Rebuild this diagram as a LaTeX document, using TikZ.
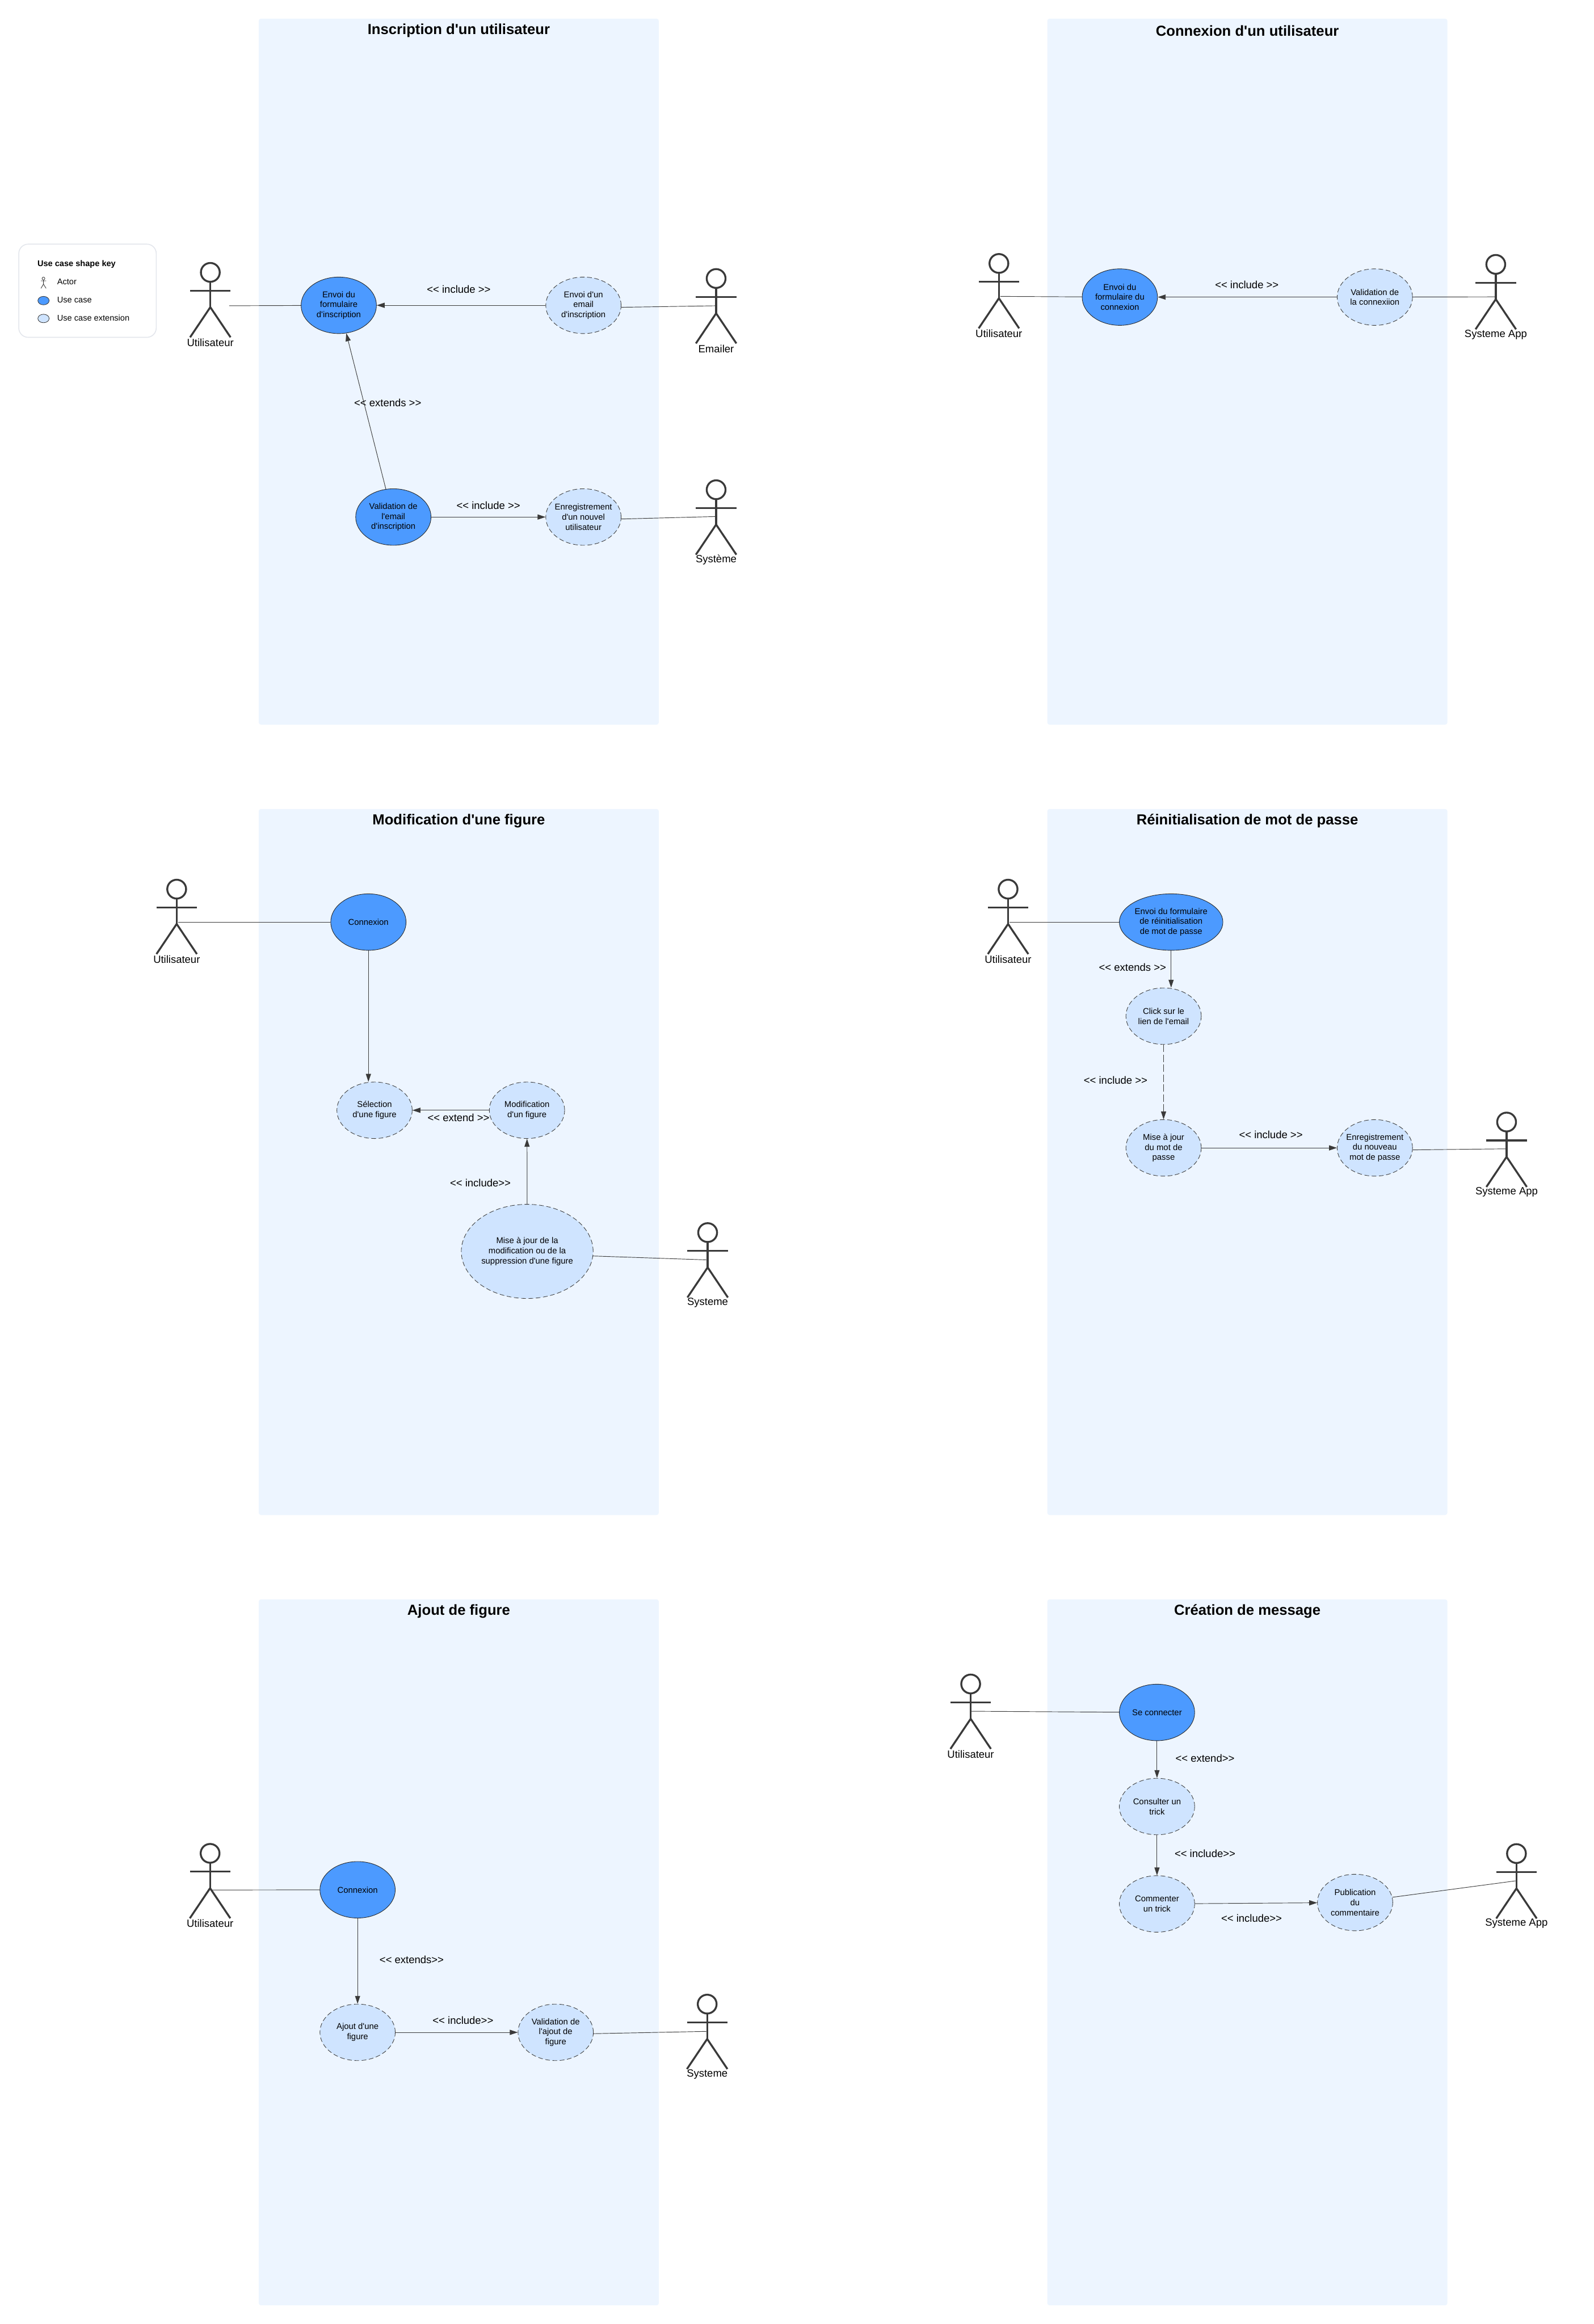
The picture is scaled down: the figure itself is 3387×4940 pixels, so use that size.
\documentclass[tikz,border=0pt]{standalone}
\usepackage{fontspec}
\usetikzlibrary{shapes.geometric,arrows.meta}
\newfontfamily\diagfont{Liberation Sans}
\definecolor{paneblue}{HTML}{EDF5FF}
\definecolor{casedark}{HTML}{4C9AFF}
\definecolor{caselight}{HTML}{CFE4FF}
\definecolor{inkline}{HTML}{3A3A3A}
\definecolor{keyline}{HTML}{E3E6EC}
\tikzset{
  panelbox/.style={rectangle, fill=paneblue, minimum width=8.5cm, minimum height=15cm, rounded corners=0.05cm, inner sep=0pt},
  paneltitle/.style={font=\diagfont\bfseries\fontsize{8.8}{10}\selectfont, inner sep=0pt},
  usecase/.style={ellipse, draw=black!85, line width=0.3pt, fill=casedark, minimum width=1.6cm, minimum height=1.2cm, inner xsep=-0.3cm, inner ysep=0pt, align=center, font=\diagfont\fontsize{5.1}{6.1}\selectfont},
  extcase/.style={usecase, draw=inkline, fill=caselight, dash pattern=on 2.8pt off 1.6pt},
  edgelabel/.style={font=\diagfont\fontsize{6.34}{7.5}\selectfont, inner sep=0pt},
  actorlabel/.style={edgelabel},
  actorline/.style={draw=inkline, line width=1.15pt},
  lien/.style={draw=inkline, line width=0.32pt},
  fleche/.style={lien, -{Triangle[length=4.8pt,width=3.1pt]}},
  keybox/.style={rectangle, draw=keyline, line width=0.55pt, fill=white, rounded corners=0.2cm, minimum width=2.92cm, minimum height=1.98cm, inner sep=0pt},
  keytext/.style={font=\diagfont\fontsize{5}{6}\selectfont, anchor=west, inner sep=0pt},
  keydot/.style={ellipse, draw=inkline, line width=0.3pt, minimum width=0.24cm, minimum height=0.18cm, inner sep=0pt},
}
\newcommand{\actorfig}[5]{%
  \begin{scope}[shift={(#2,#3)}]
    \draw[actorline] (0,22) circle [radius=20];
    \draw[actorline] (0,42) -- (0,96);
    \draw[actorline] (-43,61) -- (43,61);
    \draw[actorline] (-43,160) -- (0,96) -- (43,160);
    \node[actorlabel] (#1) at (0,171) {#4};
    \coordinate (#1c) at #5;
  \end{scope}}
\begin{document}
\begin{tikzpicture}[x=0.01cm,y=-0.01cm]
\useasboundingbox (0,0) rectangle (3387,4940);

\node[panelbox] (pInsc) at (975,790) {};
\node[panelbox] (pConn) at (2651,790) {};
\node[panelbox] (pModif) at (975,2470) {};
\node[panelbox] (pReset) at (2651,2470) {};
\node[panelbox] (pAjout) at (975,4150) {};
\node[panelbox] (pMsg) at (2651,4150) {};
\node[paneltitle] (tInsc) at (975,65) {Inscription d'un utilisateur};
\node[paneltitle] (tConn) at (2651,65) {Connexion d'un utilisateur};
\node[paneltitle] (tModif) at (975,1745) {Modification d'une figure};
\node[paneltitle] (tReset) at (2651,1745) {Réinitialisation de mot de passe};
\node[paneltitle] (tAjout) at (975,3425) {Ajout de figure};
\node[paneltitle] (tMsg) at (2651,3425) {Création de message};

\node[keybox] (key) at (186,618) {};
\node[keytext, font=\diagfont\bfseries\fontsize{5}{6}\selectfont] (keyTitle) at (79,562) {Use case shape key};
\draw[inkline, line width=0.3pt] (92.4,592) circle [radius=3];
\draw[inkline, line width=0.3pt] (92.4,595) -- (92.4,604) (87,597) -- (98,597) (87,613) -- (92.4,604) -- (98,613);
\node[keytext] (keyActor) at (121,599) {Actor};
\node[keydot, fill=casedark] (keyCase) at (92.5,639) {};
\node[keytext] (keyCaseText) at (121,637) {Use case};
\node[keydot, fill=caselight] (keyExt) at (92.5,677) {};
\node[keytext] (keyExtText) at (121,676) {Use case extension};

\actorfig{inscUser}{447}{557}{Utilisateur}{(40,93)}
\actorfig{inscMailer}{1522}{570}{Emailer}{(-2,80)}
\actorfig{inscSys}{1522}{1019}{Système}{(-2,79)}
\node[usecase] (inscForm) at (720,649) {Envoi du\\formulaire\\d'inscription};
\node[extcase] (inscMail) at (1240,649) {Envoi d'un\\email\\d'inscription};
\node[usecase] (inscValid) at (836,1099) {Validation de\\l'email\\d'inscription};
\node[extcase] (inscSave) at (1240,1099) {Enregistrement\\d'un nouvel\\utilisateur};
\draw[lien] (inscUserc) -- (inscForm);
\draw[fleche] (inscMail) -- (inscForm);
\draw[fleche] (inscValid.105) -- (inscForm.-75);
\draw[fleche] (inscValid) -- (inscSave);
\draw[lien] (inscMail.-3) -- (inscMailerc);
\draw[lien] (inscSave.-3) -- (inscSysc);
\node[edgelabel] (inscL1) at (975,615) {<< include >>};
\node[edgelabel] (inscL2) at (824,856) {<< extends >>};
\node[edgelabel] (inscL3) at (1038,1075) {<< include >>};

\actorfig{connUser}{2123}{538}{Utilisateur}{(3,92)}
\actorfig{connApp}{3179}{540}{Systeme App}{(-2,91)}
\node[usecase] (connForm) at (2380,631.5) {Envoi du\\formulaire du\\connexion};
\node[extcase] (connValid) at (2922,631.5) {Validation de\\la connexiion};
\draw[lien] (connUserc) -- (connForm);
\draw[fleche] (connValid) -- (connForm);
\draw[lien] (connValid) -- (connAppc);
\node[edgelabel] (connL1) at (2650,605) {<< include >>};

\actorfig{modifUser}{375.5}{1868}{Utilisateur}{(3,92)}
\actorfig{modifSys}{1504}{2598}{Systeme}{(-3,80)}
\node[usecase] (modifConn) at (783,1960) {Connexion};
\node[extcase] (modifSel) at (796,2360) {Sélection\\d'une figure};
\node[extcase] (modifEdit) at (1120,2360) {Modification\\d'un figure};
\node[extcase, minimum width=2.8cm, minimum height=2cm] (modifSave) at (1120.5,2660) {Mise à jour de la\\modification ou de la\\suppression d'une figure};
\draw[lien] (modifUserc) -- (modifConn);
\draw[fleche] (modifConn) -- (modifConn |- modifSel.north);
\draw[fleche] (modifEdit) -- (modifSel);
\draw[fleche] (modifSave) -- (modifEdit);
\draw[lien] (modifSave.-4) -- (modifSysc);
\node[edgelabel] (modifL1) at (974.5,2375.5) {<< extend >>};
\node[edgelabel] (modifL2) at (1021,2515) {<< include>>};

\actorfig{resetUser}{2142.5}{1868}{Utilisateur}{(3,92)}
\actorfig{resetApp}{3202}{2363}{Systeme App}{(-2,79)}
\node[usecase, minimum width=2.2cm] (resetForm) at (2489,1960) {Envoi du formulaire\\de réinitialisation\\de mot de passe};
\node[extcase] (resetClick) at (2473,2160) {Click sur le\\lien de l'email};
\node[extcase] (resetMaj) at (2473,2440) {Mise à jour\\du mot de\\passe};
\node[extcase] (resetSave) at (2922,2440) {Enregistrement\\du nouveau\\mot de passe};
\draw[lien] (resetUserc) -- (resetForm);
\draw[fleche] (resetForm) -- (resetForm |- resetClick.north);
\draw[fleche, dash pattern=on 4.4pt off 1.6pt] (resetClick) -- (resetMaj);
\draw[fleche] (resetMaj) -- (resetSave);
\draw[lien] (resetSave.-3) -- (resetAppc);
\node[edgelabel] (resetL1) at (2407,2056.5) {<< extends >>};
\node[edgelabel] (resetL2) at (2371,2296.5) {<< include >>};
\node[edgelabel] (resetL3) at (2701,2412) {<< include >>};

\actorfig{ajoutUser}{446.5}{3917.5}{Utilisateur}{(3,100)}
\actorfig{ajoutSys}{1503}{4238}{Systeme}{(-2,80)}
\node[usecase] (ajoutConn) at (760,4017) {Connexion};
\node[extcase] (ajoutFig) at (760,4320) {Ajout d'une\\figure};
\node[extcase] (ajoutValid) at (1181,4320) {Validation de\\l'ajout de\\figure};
\draw[lien] (ajoutUserc) -- (ajoutConn);
\draw[fleche] (ajoutConn) -- (ajoutFig);
\draw[fleche] (ajoutFig) -- (ajoutValid);
\draw[lien] (ajoutValid.-2) -- (ajoutSysc);
\node[edgelabel] (ajoutL1) at (875,4165.5) {<< extends>>};
\node[edgelabel] (ajoutL2) at (984,4295) {<< include>>};

\actorfig{msgUser}{2063}{3557.5}{Utilisateur}{(2,80)}
\actorfig{msgApp}{3223}{3918}{Systeme App}{(-2,80)}
\node[usecase] (msgConn) at (2459,3640) {Se connecter};
\node[extcase] (msgTrick) at (2459,3840) {Consulter un\\trick};
\node[extcase] (msgComment) at (2459,4047) {Commenter\\un trick};
\node[extcase] (msgPub) at (2880,4044) {Publication\\du\\commentaire};
\draw[lien] (msgUserc) -- (msgConn);
\draw[fleche] (msgConn) -- (msgTrick);
\draw[fleche] (msgTrick) -- (msgComment);
\draw[fleche] (msgComment) -- (msgPub);
\draw[lien] (msgPub.8) -- (msgAppc);
\node[edgelabel] (msgL1) at (2561,3737) {<< extend>>};
\node[edgelabel] (msgL2) at (2561,3940) {<< include>>};
\node[edgelabel] (msgL3) at (2660,4078) {<< include>>};
\end{tikzpicture}
\end{document}
